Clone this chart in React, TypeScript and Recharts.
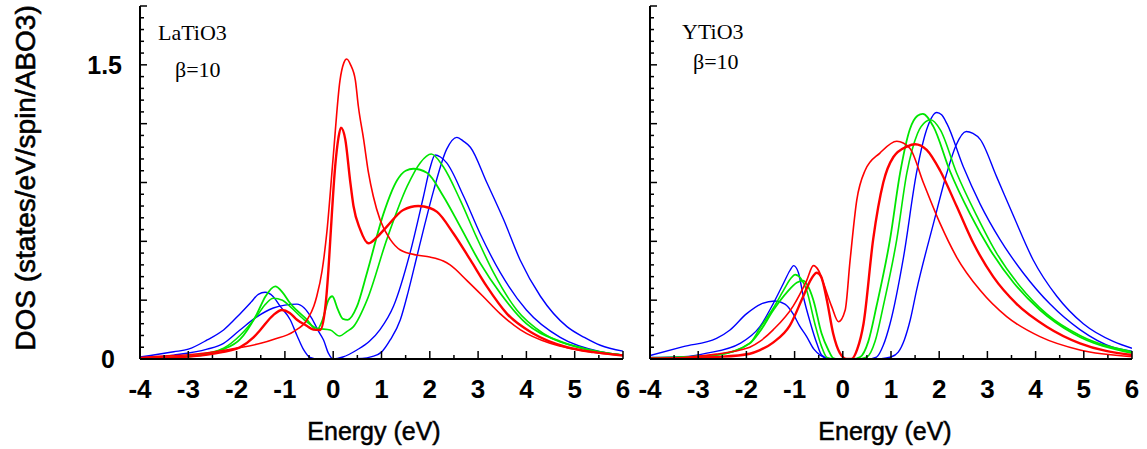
import { Line, LineChart, XAxis, YAxis } from "recharts";

// LaTiO3 panel, energies (eV) and DOS
const laBlueAE = [-4, -3.3, -3, -2.61, -2.27, -1.93, -1.7, -1.55, -1.41, -1.25, -1.1, -0.89, -0.75, -0.61, -0.48, -0.3, 0, 0.6, 0.8, 1.0, 1.18, 1.39, 1.55, 1.73, 1.9, 2.08, 2.35, 2.56, 2.7, 2.84, 3.18, 3.53, 3.87, 4.29, 4.84, 5.2, 5.53, 6];
const laBlueADos = [0.01, 0.037, 0.05, 0.097, 0.148, 0.23, 0.29, 0.33, 0.34, 0.32, 0.27, 0.2, 0.12, 0.046, 0.008, 0, 0, 0.003, 0.012, 0.035, 0.097, 0.2, 0.34, 0.52, 0.69, 0.86, 1.07, 1.13, 1.11, 1.08, 0.9, 0.71, 0.505, 0.32, 0.165, 0.11, 0.07, 0.04];

const laBlueBE = [-4, -3.3, -2.61, -2.27, -1.93, -1.58, -1.24, -1.0, -0.75, -0.6, -0.45, -0.3, -0.2, -0.1, 0, 0.2, 0.49, 0.75, 0.97, 1.25, 1.59, 1.87, 2.0, 2.11, 2.22, 2.35, 2.7, 3.04, 3.46, 4.0, 4.7, 5.53, 6];
const laBlueBDos = [0.006, 0.02, 0.05, 0.08, 0.148, 0.215, 0.26, 0.275, 0.28, 0.26, 0.21, 0.14, 0.097, 0.03, 0, 0.01, 0.046, 0.09, 0.15, 0.27, 0.54, 0.83, 0.97, 1.04, 1.03, 1.0, 0.83, 0.64, 0.44, 0.25, 0.11, 0.037, 0.02];

const laGreenAE = [-4, -3.5, -3, -2.6, -2.27, -1.93, -1.58, -1.4, -1.2, -1.05, -0.89, -0.54, -0.34, -0.22, -0.1, -0.02, 0.1, 0.2, 0.3, 0.49, 0.7, 1.04, 1.32, 1.5, 1.66, 1.94, 2.28, 2.63, 3.04, 3.46, 4.0, 4.7, 5.3, 6];
const laGreenADos = [0.003, 0.006, 0.012, 0.025, 0.05, 0.1, 0.23, 0.32, 0.37, 0.34, 0.284, 0.2, 0.148, 0.2, 0.3, 0.32, 0.25, 0.205, 0.2, 0.267, 0.44, 0.74, 0.91, 0.96, 0.97, 0.95, 0.83, 0.675, 0.49, 0.335, 0.18, 0.09, 0.045, 0.02];

const laGreenBE = [-4, -3.5, -3, -2.6, -2.27, -1.93, -1.58, -1.4, -1.24, -1.05, -0.89, -0.6, -0.34, -0.06, 0.13, 0.28, 0.42, 0.7, 1.11, 1.53, 1.8, 2.03, 2.28, 2.63, 2.97, 3.32, 3.8, 4.35, 5.18, 6];
const laGreenBDos = [0.004, 0.008, 0.015, 0.03, 0.055, 0.12, 0.22, 0.28, 0.31, 0.3, 0.267, 0.2, 0.157, 0.148, 0.117, 0.14, 0.165, 0.3, 0.61, 0.88, 1.0, 1.045, 0.98, 0.81, 0.62, 0.44, 0.25, 0.13, 0.055, 0.02];

const laRedAE = [-4, -3.5, -3, -2.6, -2.13, -1.93, -1.5, -1.24, -0.82, -0.54, -0.4, -0.34, -0.23, -0.13, 0, 0.14, 0.22, 0.28, 0.36, 0.46, 0.52, 0.63, 0.73, 0.83, 0.97, 1.18, 1.39, 1.73, 2.0, 2.28, 2.42, 2.77, 3.1, 3.46, 3.87, 4.49, 5.0, 5.53, 6];
const laRedADos = [0.008, 0.015, 0.022, 0.032, 0.05, 0.058, 0.08, 0.1, 0.14, 0.2, 0.27, 0.32, 0.45, 0.65, 1.03, 1.42, 1.51, 1.53, 1.5, 1.42, 1.29, 1.12, 0.95, 0.83, 0.71, 0.61, 0.556, 0.53, 0.52, 0.5, 0.48, 0.4, 0.32, 0.23, 0.15, 0.08, 0.05, 0.03, 0.02];

const laRedBE = [-4, -3.5, -3, -2.6, -2.3, -1.93, -1.65, -1.51, -1.24, -1.06, -0.9, -0.75, -0.55, -0.41, -0.27, -0.17, -0.1, -0.06, 0.04, 0.11, 0.16, 0.25, 0.35, 0.42, 0.56, 0.73, 0.9, 1.11, 1.45, 1.76, 2.0, 2.15, 2.49, 2.84, 3.18, 3.6, 4.14, 4.84, 5.4, 6];
const laRedBDos = [0.003, 0.006, 0.012, 0.022, 0.035, 0.06, 0.11, 0.148, 0.224, 0.25, 0.235, 0.2, 0.17, 0.15, 0.148, 0.25, 0.45, 0.61, 0.98, 1.13, 1.18, 1.12, 0.91, 0.78, 0.66, 0.59, 0.62, 0.675, 0.76, 0.78, 0.77, 0.75, 0.64, 0.505, 0.37, 0.23, 0.13, 0.06, 0.035, 0.018];

// YTiO3 panel
const yBlueAE = [-4, -3.31, -2.62, -2.34, -2.0, -1.7, -1.41, -1.2, -1.03, -0.9, -0.75, -0.6, -0.47, -0.3, 0, 0.8, 1.0, 1.15, 1.28, 1.4, 1.53, 1.88, 2.16, 2.35, 2.56, 2.7, 2.85, 3.19, 3.54, 3.95, 4.44, 4.99, 5.61, 6];
const yBlueADos = [0.018, 0.063, 0.105, 0.148, 0.23, 0.28, 0.296, 0.28, 0.23, 0.17, 0.114, 0.05, 0.02, 0.003, 0, 0.002, 0.01, 0.035, 0.1, 0.2, 0.35, 0.69, 0.95, 1.09, 1.16, 1.15, 1.12, 0.93, 0.73, 0.505, 0.32, 0.18, 0.09, 0.055];

const yBlueBE = [-4, -3.3, -2.82, -2.13, -1.72, -1.44, -1.23, -1.1, -1.02, -0.92, -0.82, -0.68, -0.54, -0.44, -0.3, 0, 0.5, 0.7, 0.84, 0.98, 1.26, 1.53, 1.74, 1.95, 2.05, 2.16, 2.5, 2.85, 3.26, 3.74, 4.3, 4.92, 5.6, 6];
const yBlueBDos = [0.008, 0.012, 0.03, 0.08, 0.165, 0.284, 0.386, 0.45, 0.476, 0.44, 0.32, 0.19, 0.08, 0.02, 0.002, 0, 0, 0.01, 0.07, 0.18, 0.52, 0.95, 1.17, 1.257, 1.245, 1.2, 0.98, 0.79, 0.61, 0.44, 0.28, 0.15, 0.06, 0.04];

const yGreenAE = [-4, -3.3, -2.62, -1.93, -1.72, -1.44, -1.23, -1.08, -0.99, -0.87, -0.75, -0.58, -0.44, -0.33, -0.2, 0.3, 0.5, 0.67, 0.84, 1.12, 1.33, 1.55, 1.72, 1.82, 2.02, 2.36, 2.78, 3.19, 3.68, 4.23, 4.92, 6];
const yGreenADos = [0.006, 0.01, 0.02, 0.08, 0.157, 0.26, 0.35, 0.41, 0.43, 0.41, 0.35, 0.18, 0.063, 0.008, 0, 0, 0.01, 0.09, 0.27, 0.61, 0.95, 1.15, 1.21, 1.22, 1.17, 0.95, 0.73, 0.54, 0.37, 0.23, 0.12, 0.037];

const yGreenBE = [-4, -3.3, -2.62, -1.93, -1.72, -1.44, -1.16, -0.95, -0.82, -0.72, -0.61, -0.44, -0.3, -0.2, -0.1, 0.2, 0.36, 0.53, 0.7, 0.98, 1.19, 1.39, 1.55, 1.66, 1.88, 2.22, 2.64, 3.05, 3.54, 4.09, 4.78, 6];
const yGreenBDos = [0.006, 0.01, 0.02, 0.08, 0.14, 0.25, 0.34, 0.39, 0.4, 0.37, 0.3, 0.13, 0.046, 0.005, 0, 0, 0.01, 0.09, 0.27, 0.61, 0.95, 1.17, 1.24, 1.25, 1.185, 0.96, 0.74, 0.56, 0.39, 0.25, 0.13, 0.03];

const yRedAE = [-4, -3.3, -2.62, -2.13, -1.93, -1.72, -1.44, -1.03, -0.75, -0.61, -0.5, -0.4, -0.23, -0.09, 0.05, 0.15, 0.29, 0.46, 0.77, 1.12, 1.39, 1.67, 2.02, 2.36, 2.85, 3.4, 4.09, 4.92, 6];
const yRedADos = [0.003, 0.008, 0.025, 0.046, 0.06, 0.09, 0.15, 0.27, 0.4, 0.476, 0.45, 0.386, 0.267, 0.19, 0.25, 0.5, 0.81, 0.96, 1.05, 1.11, 1.075, 0.9, 0.69, 0.52, 0.35, 0.216, 0.114, 0.046, 0.012];

const yRedBE = [-4, -3.3, -2.62, -1.93, -1.72, -1.44, -1.1, -0.82, -0.65, -0.54, -0.45, -0.33, -0.2, -0.06, 0.08, 0.18, 0.3, 0.43, 0.63, 0.84, 1.05, 1.33, 1.5, 1.74, 2.02, 2.36, 2.71, 3.12, 3.61, 4.23, 4.92, 6];
const yRedBDos = [0.002, 0.004, 0.01, 0.027, 0.045, 0.085, 0.17, 0.32, 0.41, 0.44, 0.42, 0.3, 0.13, 0.03, 0, 0, 0.05, 0.18, 0.61, 0.9, 1.03, 1.083, 1.095, 1.066, 0.96, 0.78, 0.59, 0.42, 0.28, 0.165, 0.08, 0.02];

const xTicks = [-4, -3.5, -3, -2.5, -2, -1.5, -1, -0.5, 0, 0.5, 1, 1.5, 2, 2.5, 3, 3.5, 4, 4.5, 5, 5.5, 6];
const yTickLabels: Record<string, string> = { "0": "0", "1.5": "1.5" };
const yTicks = Array.from({ length: 31 }, (_, i) => Math.round(i * 6) / 100);

const BLUE = "#0000ff";
const GREEN = "#00e600";
const RED = "#ff0000";
const sans = "'Liberation Sans', Arial, Helvetica, sans-serif";
const serif = "'Liberation Serif', 'Times New Roman', serif";
const frame = { stroke: "#000", strokeWidth: 2 };

type Curve = { e: number[]; dos: number[]; color: string; width: number };

const laCurves: Curve[] = [
  { e: laBlueAE, dos: laBlueADos, color: BLUE, width: 1.4 },
  { e: laBlueBE, dos: laBlueBDos, color: BLUE, width: 1.4 },
  { e: laGreenAE, dos: laGreenADos, color: GREEN, width: 1.8 },
  { e: laGreenBE, dos: laGreenBDos, color: GREEN, width: 1.6 },
  { e: laRedAE, dos: laRedADos, color: RED, width: 1.6 },
  { e: laRedBE, dos: laRedBDos, color: RED, width: 2.4 },
];

const yCurves: Curve[] = [
  { e: yBlueAE, dos: yBlueADos, color: BLUE, width: 1.4 },
  { e: yBlueBE, dos: yBlueBDos, color: BLUE, width: 1.4 },
  { e: yGreenAE, dos: yGreenADos, color: GREEN, width: 1.6 },
  { e: yGreenBE, dos: yGreenBDos, color: GREEN, width: 1.8 },
  { e: yRedAE, dos: yRedADos, color: RED, width: 1.6 },
  { e: yRedBE, dos: yRedBDos, color: RED, width: 2.4 },
];

const toPoints = (e: number[], dos: number[]) => e.map((x, i) => ({ e: x, dos: dos[i] }));

const isMajorX = (v: number) => Number.isInteger(v);
const isMajorY = (v: number) => Math.round(v * 100) % 30 === 0;

function BottomTick(props: any) {
  const { x, y, payload } = props;
  const v = payload.value;
  const major = isMajorX(v);
  return (
    <g>
      <line x1={x} x2={x} y1={y} y2={y - (major ? 8 : 4)} stroke="#000" strokeWidth={1.5} />
      {major && (
        <text x={x} y={y + 39} textAnchor="middle" fontSize={26} fontWeight="bold" fontFamily={sans} fill="#000">
          {v}
        </text>
      )}
    </g>
  );
}

function TopTick(props: any) {
  const { x, y, payload } = props;
  const major = isMajorX(payload.value);
  return <line x1={x} x2={x} y1={y} y2={y + (major ? 8 : 4)} stroke="#000" strokeWidth={1.5} />;
}

function LeftTick(props: any) {
  const { x, y, payload, showLabels } = props;
  const v = payload.value;
  const label = yTickLabels[String(v)];
  return (
    <g>
      <line x1={x} x2={x + (isMajorY(v) ? 7 : 4)} y1={y} y2={y} stroke="#000" strokeWidth={1.5} />
      {showLabels && label && (
        <text x={v === 0 ? x - 25 : x - 18} y={y + 9} textAnchor="end" fontSize={25} fontWeight="bold" fontFamily={sans} fill="#000">
          {label}
        </text>
      )}
    </g>
  );
}

function RightTick(props: any) {
  const { x, y, payload } = props;
  return <line x1={x} x2={x - (isMajorY(payload.value) ? 7 : 4)} y1={y} y2={y} stroke="#000" strokeWidth={1.5} />;
}

function Panel({ left, width, yAxisWidth, marginRight, curves, showYLabels }: { left: number; width: number; yAxisWidth: number; marginRight: number; curves: Curve[]; showYLabels: boolean }) {
  return (
    <div style={{ position: "absolute", left, top: 0 }}>
      <LineChart width={width} height={449} margin={{ top: 6, right: marginRight, bottom: 0, left: 0 }}>
        <XAxis xAxisId="b" type="number" dataKey="e" domain={[-4, 6]} ticks={xTicks} interval={0} height={90} allowDataOverflow tickLine={false} tickSize={0} tickMargin={0} axisLine={frame} tick={(p: any) => <BottomTick {...p} />} />
        <XAxis xAxisId="t" orientation="top" type="number" dataKey="e" domain={[-4, 6]} ticks={xTicks} interval={0} height={0} allowDataOverflow tickLine={false} tickSize={0} tickMargin={0} axisLine={frame} tick={(p: any) => <TopTick {...p} />} />
        <YAxis yAxisId="l" type="number" domain={[0, 1.8]} ticks={yTicks} interval={0} width={yAxisWidth} allowDataOverflow tickLine={false} tickSize={0} tickMargin={0} axisLine={frame} tick={(p: any) => <LeftTick {...p} showLabels={showYLabels} />} />
        <YAxis yAxisId="r" orientation="right" type="number" domain={[0, 1.8]} ticks={yTicks} interval={0} width={0} allowDataOverflow tickLine={false} tickSize={0} tickMargin={0} axisLine={frame} tick={(p: any) => <RightTick {...p} />} />
        {curves.map((c, i) => (
          <Line key={i} xAxisId="b" yAxisId="l" data={toPoints(c.e, c.dos)} dataKey="dos" type="monotone" stroke={c.color} strokeWidth={c.width} dot={false} activeDot={false} isAnimationActive={false} />
        ))}
      </LineChart>
    </div>
  );
}

export default function App() {
  return (
    <div style={{ position: "absolute", left: 0, top: 0, width: 1147, height: 449, background: "#fff" }}>
      <Panel left={0} width={640} yAxisWidth={140} marginRight={17} curves={laCurves} showYLabels />
      <Panel left={630} width={517} yAxisWidth={20} marginRight={15} curves={yCurves} showYLabels={false} />
      <svg width={1147} height={449} style={{ position: "absolute", left: 0, top: 0, pointerEvents: "none" }}>
        <text transform="translate(35,178) rotate(-90)" textAnchor="middle" fontSize={28} fontFamily={sans} fill="#000" stroke="#000" strokeWidth={0.6}>
          DOS (states/eV/spin/ABO3)
        </text>
        <text x={374} y={440} textAnchor="middle" fontSize={25} fontFamily={sans} fill="#000" stroke="#000" strokeWidth={0.5}>Energy (eV)</text>
        <text x={885} y={440} textAnchor="middle" fontSize={25} fontFamily={sans} fill="#000" stroke="#000" strokeWidth={0.5}>Energy (eV)</text>
        <text x={158} y={40} fontSize={22} fontFamily={serif} fill="#000">LaTiO3</text>
        <text x={175} y={77} fontSize={22} fontFamily={serif} fill="#000">β=10</text>
        <text x={682} y={39} fontSize={22} fontFamily={serif} fill="#000">YTiO3</text>
        <text x={693} y={69} fontSize={22} fontFamily={serif} fill="#000">β=10</text>
      </svg>
    </div>
  );
}
